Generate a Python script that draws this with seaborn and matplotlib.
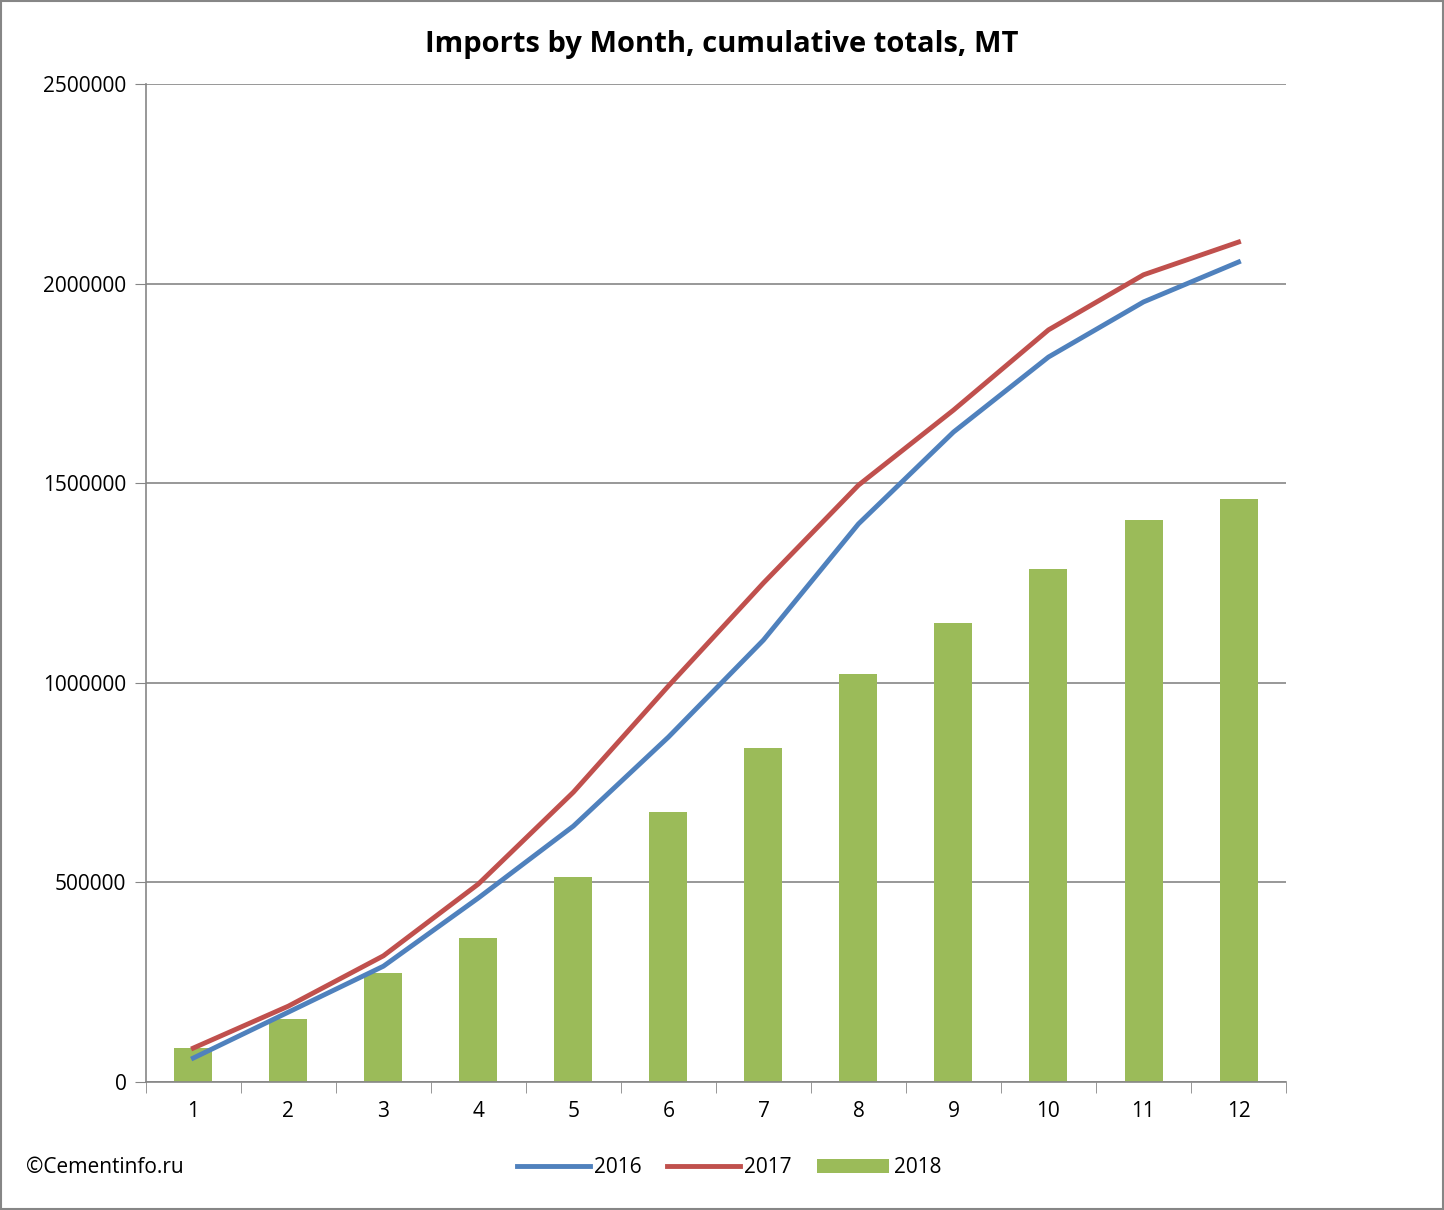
import numpy as np
import pandas as pd
import matplotlib
matplotlib.use("Agg")
import matplotlib.pyplot as plt
import seaborn as sns
from matplotlib.patches import Rectangle

# Data
months = [1, 2, 3, 4, 5, 6, 7, 8, 9, 10, 11, 12]
imports_2018 = [85000, 158000, 273000, 361000, 514000, 676000, 837000, 1022000, 1150000, 1285000, 1408000, 1460000]
imports_2016 = [60000, 175000, 290000, 461000, 641000, 864000, 1107000, 1398000, 1628000, 1816000, 1954000, 2054000]
imports_2017 = [85000, 190000, 316000, 496000, 726000, 992000, 1250000, 1495000, 1683000, 1884000, 2022000, 2104000]

plt.rcParams["font.family"] = "Open Sans"
fig = plt.figure(figsize=(14.44, 12.1), dpi=100)
ax = fig.add_axes([0.101, 0.1058, 0.7896, 0.8248])

pos = np.arange(len(months))
df = pd.DataFrame({"month": months, "v": imports_2018})
sns.barplot(data=df, x="month", y="v", color="#9BBB59", width=0.4, saturation=1,
            ax=ax, label="2018", zorder=2)
sns.lineplot(x=pos, y=imports_2016, color="#4F81BD", linewidth=3.5, ax=ax, label="2016", zorder=3)
sns.lineplot(x=pos, y=imports_2017, color="#C0504D", linewidth=3.5, ax=ax, label="2017", zorder=4)

ax.set_xlim(-0.5, 11.5)
ax.set_ylim(0, 2500000)
ax.set_yticks(range(0, 2500001, 500000))
ax.set_yticklabels([str(v) for v in range(0, 2500001, 500000)])
ax.set_xticks(pos)
ax.set_xticklabels([str(m) for m in months])
ax.set_xticks(np.arange(-0.5, 12, 1), minor=True)
ax.tick_params(axis="x", which="minor", length=8, color="#868686")
ax.tick_params(axis="x", which="major", length=0, pad=14)
ax.tick_params(axis="y", length=8, color="#868686", pad=6)
ax.tick_params(labelsize=15)
ax.set_xlabel("")
ax.set_ylabel("")
ax.yaxis.grid(True, color="#868686", linewidth=1.2, zorder=0)
ax.set_axisbelow(True)
for s in ["top", "right"]:
    ax.spines[s].set_visible(False)
for s in ["left", "bottom"]:
    ax.spines[s].set_color("#868686")
    ax.spines[s].set_linewidth(1.2)

fig.suptitle("Imports by Month, cumulative totals, MT", fontsize=21, fontweight="bold",
             y=0.975)
handles, labels = ax.get_legend_handles_labels()
ax.legend(handles, labels, loc="center", bbox_to_anchor=(0.505, 0.035),
          bbox_transform=fig.transFigure, ncol=3, frameon=False, fontsize=15,
          handlelength=3.5, columnspacing=1.2, handletextpad=0.2)
fig.text(0.018, 0.035, "©Cementinfo.ru", fontsize=15, va="center")
fig.patches.append(Rectangle((0.001, 0.001), 0.998, 0.998, transform=fig.transFigure,
                             fill=False, edgecolor="#868686", linewidth=1.5))
fig.savefig("out.png", dpi=100)
